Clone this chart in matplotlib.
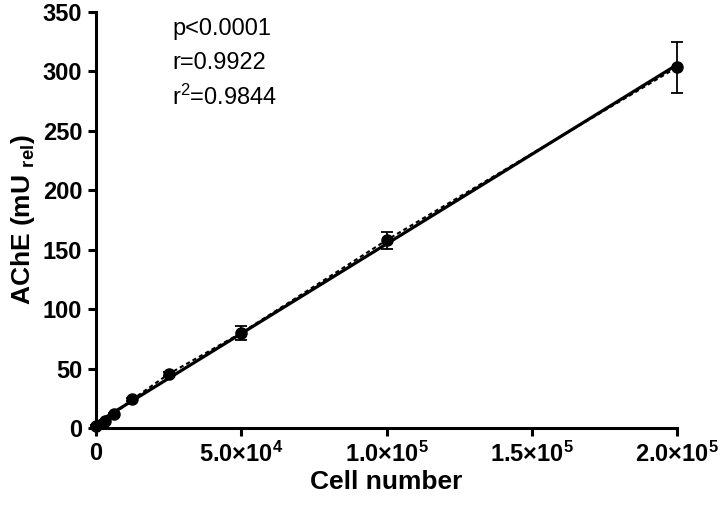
import numpy as np
import matplotlib
matplotlib.use("Agg")
import matplotlib.pyplot as plt
from matplotlib.ticker import FixedLocator

plt.rcParams['font.family'] = ['Liberation Sans', 'DejaVu Sans']
plt.rcParams['mathtext.fontset'] = 'custom'
plt.rcParams['mathtext.rm'] = 'Liberation Sans:bold'
plt.rcParams['mathtext.it'] = 'Liberation Sans:bold'
plt.rcParams['mathtext.bf'] = 'Liberation Sans:bold'
plt.rcParams['mathtext.sf'] = 'Liberation Sans'

cells = [0, 3125, 6250, 12500, 25000, 50000, 100000, 200000]
ache = [2, 6, 12, 24, 45.4, 80, 158, 303.5]
err = [0.5, 0.8, 1.0, 1.5, 2.0, 6, 7, 21.3]
x_ticks = [0, 50000, 100000, 150000, 200000]
x_tick_labels = ['0', '5.0×10$^{4}$', '1.0×10$^{5}$', '1.5×10$^{5}$', '2.0×10$^{5}$']
y_ticks = [0, 50, 100, 150, 200, 250, 300, 350]
stats = ['p<0.0001', 'r=0.9922', 'r$\\mathsf{^{2}}$=0.9844']

fig = plt.figure(figsize=(7.23, 5.05), dpi=100)
ax = fig.add_axes([0.1328, 0.1525, 0.8036, 0.8237])

# dashed line connecting means
ax.plot(cells, ache, color='black', lw=1.5, ls=(0, (2, 1.5)), zorder=2, clip_on=False)
# linear regression
slope, intercept = np.polyfit(cells, ache, 1)
xf = np.array([min(cells), max(cells)])
ax.plot(xf, slope * xf + intercept, color='black', lw=2.3, zorder=3, clip_on=False)
ax.errorbar(cells, ache, yerr=err, fmt='o', color='black', ms=8, capsize=4,
            elinewidth=1.3, capthick=1.3, zorder=4, clip_on=False)

ax.set_xlim(0, 200000)
ax.set_ylim(0, 350)
ax.xaxis.set_major_locator(FixedLocator(x_ticks))
ax.set_xticklabels(x_tick_labels)
ax.yaxis.set_major_locator(FixedLocator(y_ticks))

for s in ['top', 'right']:
    ax.spines[s].set_visible(False)
for s in ['left', 'bottom']:
    ax.spines[s].set_linewidth(2.2)
ax.tick_params(axis='both', width=2.2, length=6, labelsize=17, pad=4)
for lab in ax.get_xticklabels() + ax.get_yticklabels():
    lab.set_fontweight('bold')

ax.set_xlabel('Cell number', fontsize=19, fontweight='bold', labelpad=2)
ax.set_ylabel('AChE (mU $_{\\mathrm{rel}}$)', fontsize=19, fontweight='bold', labelpad=4)

for i, s in enumerate(stats):
    ax.text(0.131, 0.985 - i * 0.08, s, transform=ax.transAxes, fontsize=17,
            va='top', ha='left')

fig.savefig('out.png', dpi=100)
